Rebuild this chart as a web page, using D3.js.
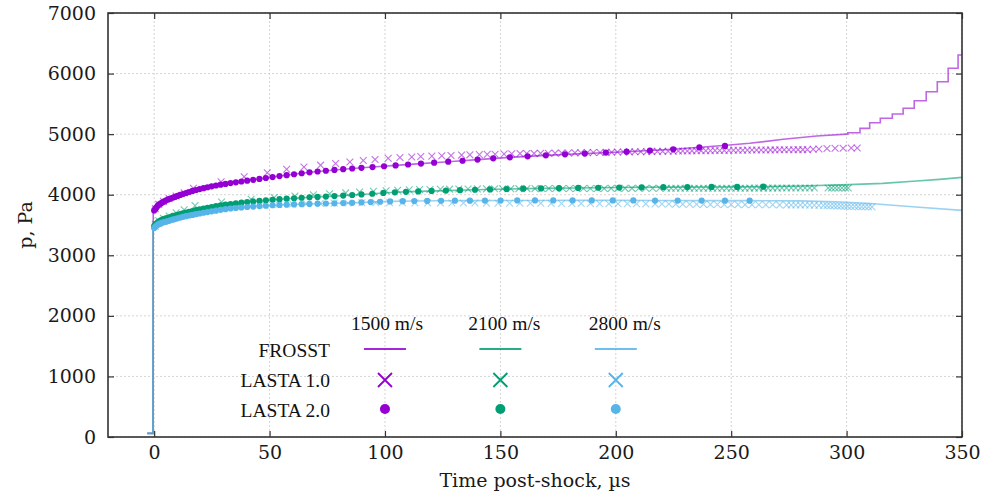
<!DOCTYPE html>
<html><head><meta charset="utf-8">
<script src="https://cdn.jsdelivr.net/npm/d3@7"></script>
<style>body{margin:0;background:#fff}</style>
</head><body><svg id="chart" width="989" height="497"></svg>
<script>
// ---------- DATA ----------
const xTicks = [0, 50, 100, 150, 200, 250, 300, 350];
const yTicks = [0, 1000, 2000, 3000, 4000, 5000, 6000, 7000];
const speeds = ["1500 m/s", "2100 m/s", "2800 m/s"];
const rowLabels = ["FROSST", "LASTA 1.0", "LASTA 2.0"];
const seriesColors = ["#9400d3", "#009e73", "#56b4e9"];

// FROSST (lines)
const frosst1500 = [[-3,60],[-0.5,60],[-0.4,3740],[0,3745],[1,3790],[2.2,3840],[3.6,3874],[5.2,3908],[7,3936],[9,3964],[11.3,3996],[13.8,4028],[16.6,4062],[19.7,4093],[23.1,4123],[26.8,4152],[30.9,4178],[35.4,4205],[40.3,4232],[45.6,4261],[51.3,4292],[57.4,4323],[63.9,4354],[70.8,4383],[78.1,4409],[85.8,4433],[94.6,4457],[104.6,4484],[115.6,4514],[127.4,4545],[140.1,4580],[154.1,4617],[169.7,4650],[186.6,4680],[204.7,4710],[224.9,4750],[236.5,4783],[248,4816],[258,4849],[272.6,4915],[287,4969],[300,5000]];
const frosst1500Steps = [[300,5000],[300.5,5024],[305.8,5096],[310,5189],[314.6,5262],[319.8,5333],[324.5,5427],[329.3,5552],[334.5,5701],[339.3,5866],[344,6087],[348.3,6307],[350,6307]];
const frosst2100 = [[-3,60],[-0.5,60],[-0.4,3480],[0,3485],[1,3525],[2.2,3562],[3.6,3590],[5.2,3610],[7,3632],[9,3656],[11.3,3680],[13.8,3705],[16.6,3731],[19.7,3758],[23.1,3784],[26.8,3810],[30.9,3835],[35.4,3857],[40.3,3879],[45.6,3898],[51.3,3916],[57.4,3934],[63.9,3950],[70.8,3964],[78.1,3977],[85.8,3995],[94.5,4016],[104.3,4040],[114.4,4055],[126.4,4068],[139,4082],[152.7,4094],[167.6,4104],[183.7,4112],[201.5,4118],[220.6,4125],[241.5,4128],[263.9,4133],[280,4145],[301,4166],[315.6,4188],[330.3,4227],[340.3,4254],[350,4287]];
const frosst2800 = [[-3,60],[-0.5,60],[-0.4,3450],[0,3455],[1,3488],[2.2,3518],[3.6,3540],[5.2,3555],[7,3577],[9,3598],[11.3,3622],[13.8,3646],[16.6,3667],[19.7,3690],[23.1,3714],[26.8,3736],[30.9,3762],[35.4,3781],[40.3,3797],[45.6,3812],[51.3,3826],[57.4,3836],[63.9,3844],[70.8,3852],[78.1,3858],[85.8,3866],[93.8,3878],[102.2,3890],[112.7,3896],[124.3,3900],[136.8,3902],[150.1,3904],[165,3905],[181.3,3906],[198.7,3906],[217,3904],[237.2,3903],[258,3902],[280,3898],[295,3885],[308.8,3858],[330,3798],[350,3742]];

// LASTA 1.0 (crosses)
const lasta1_1500 = [[0.5,3770],[2,3840],[4,3890],[6.5,3935],[9.5,3980],[13,4030],[17,4106],[29,4215],[39,4298],[49,4364],[57.4,4420],[64.9,4458],[72.1,4488],[78.6,4515],[84.8,4540],[90.6,4565],[95.7,4582],[101.4,4601],[106.5,4613],[111.6,4624],[115.5,4630],[120.3,4637],[124.6,4643],[128.6,4648],[133.2,4654],[136.8,4658],[140.9,4662],[144.3,4666],[147.7,4669],[151.6,4673],[154.9,4677],[158.5,4679],[161.4,4680],[164.6,4682],[167.4,4683],[170.8,4685],[173.7,4686],[176.6,4688],[179.4,4690],[182.3,4691],[184.9,4693],[187.7,4695],[190.3,4696],[193.2,4698],[195.8,4700],[198.2,4702],[200.7,4705],[203.3,4706],[205.9,4707],[208.3,4709],[210.8,4710],[213.4,4712],[215.6,4713],[218,4715],[220.3,4716],[222.7,4718],[224.9,4719],[227.1,4721],[229,4722],[231,4723],[233,4724],[235,4725],[237,4726],[239,4727],[241,4728],[243,4729],[245,4730],[247,4731],[249,4732],[251,4733],[253,4734],[255,4735],[257,4736],[259,4737],[261,4737],[263,4738],[265,4739],[267,4740],[269,4740],[271,4741],[273,4742],[275,4742],[277,4743],[279,4744],[281,4744],[283,4745],[285.5,4750],[288,4756],[291.5,4762],[295,4766],[298.5,4768],[302,4770],[304.6,4772]];
const lasta1_2100 = [[0.5,3510],[2,3570],[4,3610],[6.5,3650],[9.5,3700],[13,3750],[17.7,3820],[29.2,3880],[42,3925],[52,3955],[61,3980],[69,4000],[76,4016],[83,4030],[89,4043],[95,4055],[100.5,4066],[105.5,4074],[110.5,4080],[115,4084],[119.5,4087],[124,4090],[128,4092],[132,4094],[136,4095],[140,4096],[144,4097],[147.5,4098],[151,4099],[154.5,4100],[158,4100],[161.5,4101],[165,4101],[168,4102],[171,4102],[174,4102],[177,4103],[180,4103],[183,4103],[186,4104],[189,4104],[192,4104],[195,4104],[198,4105],[201,4105],[204,4105],[207,4105],[210,4106],[213,4106],[216,4106],[219,4106],[222,4106],[224,4106],[226,4106],[228,4107],[230,4107],[232,4107],[234,4107],[236,4107],[238,4107],[240,4107],[242,4107],[244,4108],[246,4108],[248,4108],[250,4108],[252,4108],[254,4108],[256,4108],[258,4109],[260,4109],[262,4109],[264,4109],[266,4109],[268,4109],[270,4109],[272,4110],[274,4110],[276,4110],[278,4110],[280,4110],[282,4110],[284,4110],[286,4110],[292,4110],[293.5,4110],[295,4111],[296.5,4111],[298,4111],[299.5,4111],[300.7,4111]];
const lasta1_2800 = [[0.5,3470],[2,3520],[4,3560],[6.5,3600],[9.5,3640],[13,3680],[18,3720],[24,3755],[30,3780],[36,3800],[42,3815],[48,3828],[54,3838],[60,3846],[66,3852],[72,3857],[78,3861],[84,3864],[90,3866],[96,3867],[102,3867],[107.5,3866],[113,3865],[118.5,3865],[124,3864],[129,3863],[134,3863],[139,3862],[144,3861],[149,3860],[154,3860],[158.5,3859],[163,3858],[167.5,3858],[172,3857],[176.5,3856],[181,3855],[185,3855],[189,3854],[193,3853],[197,3852],[201,3852],[205,3851],[209,3850],[213,3849],[217,3848],[220,3847],[223,3846],[226,3845],[229,3844],[232,3843],[235,3842],[238,3841],[241,3840],[244,3839],[247,3838],[250,3838],[253,3837],[256,3836],[259,3835],[262,3834],[265,3834],[268,3833],[271,3832],[274,3831],[276,3831],[278,3830],[280,3829],[282,3829],[284,3828],[286,3826],[288,3824],[290,3822],[291.5,3820],[293,3818],[294.5,3816],[296,3814],[297.5,3812],[299,3810],[300.5,3808],[302,3806],[303.5,3805],[305,3803],[306.5,3802],[308,3801],[309.5,3800],[311,3799]];

// LASTA 2.0 (dots)
const lasta2_1500 = [[0,3740],[0.5,3765],[1,3790],[1.6,3820],[2.2,3840],[2.9,3857],[3.6,3874],[4.4,3890],[5.2,3908],[6.1,3923],[7,3936],[8,3950],[9,3964],[10.1,3980],[11.3,3996],[12.5,4012],[13.8,4028],[15.2,4045],[16.6,4062],[18.1,4078],[19.7,4093],[21.4,4108],[23.1,4123],[24.9,4138],[26.8,4152],[28.8,4165],[30.9,4178],[33.1,4192],[35.4,4205],[37.8,4218],[40.3,4232],[42.9,4246],[45.6,4261],[48.4,4276],[51.3,4292],[54.3,4308],[57.4,4323],[60.6,4338],[63.9,4354],[67.3,4369],[70.8,4383],[74.4,4396],[78.1,4409],[81.9,4421],[85.8,4433],[89.8,4444],[94.6,4457],[99.6,4470],[104.6,4484],[110,4499],[115.6,4514],[121.3,4529],[127.4,4545],[133.6,4561],[140.1,4580],[146.9,4600],[154.1,4617],[161.8,4634],[169.7,4650],[178,4667],[186.6,4680],[195.7,4695],[204.7,4710],[214.8,4728],[224.9,4750],[236.2,4780],[247.3,4805]];
const lasta2_2100 = [[0,3480],[0.5,3505],[1,3525],[1.6,3545],[2.2,3562],[2.9,3578],[3.6,3590],[4.4,3600],[5.2,3610],[6.1,3620],[7,3632],[8,3645],[9,3656],[10.1,3668],[11.3,3680],[12.5,3692],[13.8,3705],[15.2,3718],[16.6,3731],[18.1,3744],[19.7,3758],[21.4,3771],[23.1,3784],[24.9,3797],[26.8,3810],[28.8,3823],[30.9,3835],[33.1,3846],[35.4,3857],[37.8,3868],[40.3,3879],[42.9,3889],[45.6,3898],[48.4,3907],[51.3,3916],[54.3,3926],[57.4,3934],[60.6,3942],[63.9,3950],[67.3,3958],[70.8,3964],[74.4,3970],[78.1,3977],[81.9,3986],[85.8,3995],[89.8,4004],[94.5,4016],[99.3,4030],[104.3,4040],[109.1,4048],[114.4,4055],[120.2,4062],[126.4,4068],[132.5,4075],[139,4082],[145.5,4088],[152.7,4094],[159.9,4099],[167.6,4104],[175.4,4108],[183.7,4112],[192.4,4115],[201.5,4118],[211.2,4122],[220.6,4125],[231,4127],[241.5,4128],[252.6,4129],[263.9,4133]];
const lasta2_2800 = [[0,3450],[0.5,3470],[1,3488],[1.6,3505],[2.2,3518],[2.9,3530],[3.6,3540],[4.4,3548],[5.2,3555],[6.1,3566],[7,3577],[8,3588],[9,3598],[10.1,3610],[11.3,3622],[12.5,3635],[13.8,3646],[15.2,3657],[16.6,3667],[18.1,3678],[19.7,3690],[21.4,3702],[23.1,3714],[24.9,3725],[26.8,3736],[28.8,3750],[30.9,3762],[33.1,3772],[35.4,3781],[37.8,3789],[40.3,3797],[42.9,3805],[45.6,3812],[48.4,3818],[51.3,3826],[54.3,3832],[57.4,3836],[60.6,3840],[63.9,3844],[67.3,3848],[70.8,3852],[74.4,3855],[78.1,3858],[81.9,3862],[85.8,3866],[89.8,3872],[93.8,3878],[97.9,3884],[102.2,3890],[107.7,3893],[112.7,3896],[118.3,3898],[124.3,3900],[130.3,3901],[136.8,3902],[143.3,3903],[150.1,3904],[157.3,3905],[165,3905],[172.9,3906],[181.3,3906],[189.6,3906],[198.7,3906],[207.6,3905],[217,3904],[226.8,3903],[237.2,3903],[247.3,3902],[258,3902]];

// legend column positions (in time units, as in the original)
const legendCols = [100, 150, 200];

// ---------- DRAW ----------
const svg = d3.select('#chart');
const L = 108, R = 962, T = 13, B = 437;
const x = d3.scaleLinear().domain([-20, 350]).range([L, R]);
const y = d3.scaleLinear().domain([0, 7000]).range([B, T]);
const tickFont = "'DejaVu Serif', serif";
const legFont = "'Liberation Serif', 'Times New Roman', serif";

svg.append('rect').attr('width', 989).attr('height', 497).attr('fill', '#fff');

// grid
const grid = svg.append('g').attr('stroke', '#d4d4d4').attr('stroke-width', 1).attr('stroke-dasharray', '2,2');
grid.selectAll('.gx').data(xTicks).join('line')
  .attr('x1', d => x(d)).attr('x2', d => x(d)).attr('y1', T).attr('y2', B);
grid.selectAll('.gy').data(yTicks).join('line')
  .attr('x1', L).attr('x2', R).attr('y1', d => y(d)).attr('y2', d => y(d));

// clip
svg.append('clipPath').attr('id', 'clip').append('rect')
  .attr('x', L).attr('y', T).attr('width', R - L).attr('height', B - T);
const plot = svg.append('g').attr('clip-path', 'url(#clip)');

const line = d3.line().x(d => x(d[0])).y(d => y(d[1]));
const stepLine = d3.line().x(d => x(d[0])).y(d => y(d[1])).curve(d3.curveStepAfter);

const frosst = [frosst1500, frosst2100, frosst2800];
const lasta1 = [lasta1_1500, lasta1_2100, lasta1_2800];
const lasta2 = [lasta2_1500, lasta2_2100, lasta2_2800];

frosst.forEach((s, i) => {
  plot.append('path').datum(s).attr('d', line)
    .attr('fill', 'none').attr('stroke', seriesColors[i]).attr('stroke-opacity', 0.6).attr('stroke-width', 1.6);
});
plot.append('path').datum(frosst1500Steps).attr('d', stepLine)
  .attr('fill', 'none').attr('stroke', seriesColors[0]).attr('stroke-opacity', 0.6).attr('stroke-width', 1.6);

const xs = 3.4;
lasta1.forEach((s, i) => {
  plot.append('g').selectAll('path').data(s).join('path')
    .attr('d', d => { const cx = x(d[0]), cy = y(d[1]);
      return `M${cx-xs},${cy-xs}L${cx+xs},${cy+xs}M${cx-xs},${cy+xs}L${cx+xs},${cy-xs}`; })
    .attr('stroke', seriesColors[i]).attr('stroke-opacity', 0.55).attr('stroke-width', 1.1).attr('fill', 'none');
});
lasta2.forEach((s, i) => {
  plot.append('g').selectAll('circle').data(s).join('circle')
    .attr('cx', d => x(d[0])).attr('cy', d => y(d[1])).attr('r', 3.1)
    .attr('fill', seriesColors[i]);
});

// axes (inward ticks on all sides)
const axisColor = '#333';
function styleAxis(g, showLabels) {
  g.select('.domain').remove();
  g.selectAll('.tick line').attr('stroke', axisColor).attr('stroke-width', 1.2);
  g.selectAll('.tick text').attr('fill', '#1a1a1a').style('font-family', tickFont).style('font-size', '19px');
  if (!showLabels) g.selectAll('.tick text').remove();
}
svg.append('g').attr('transform', `translate(0,${B})`)
  .call(d3.axisBottom(x).tickValues(xTicks).tickSize(-6).tickPadding(9).tickFormat(d3.format('d')))
  .call(g => styleAxis(g, true));
svg.append('g').attr('transform', `translate(0,${T})`)
  .call(d3.axisTop(x).tickValues(xTicks).tickSize(-6))
  .call(g => styleAxis(g, false));
svg.append('g').attr('transform', `translate(${L},0)`)
  .call(d3.axisLeft(y).tickValues(yTicks).tickSize(-6).tickPadding(12).tickFormat(d3.format('d')))
  .call(g => styleAxis(g, true));
svg.append('g').attr('transform', `translate(${R},0)`)
  .call(d3.axisRight(y).tickValues(yTicks).tickSize(-6))
  .call(g => styleAxis(g, false));

svg.append('rect').attr('x', L).attr('y', T).attr('width', R - L).attr('height', B - T)
  .attr('fill', 'none').attr('stroke', axisColor).attr('stroke-width', 1.6);

// axis titles
svg.append('text').attr('x', (L + R) / 2).attr('y', 487).attr('text-anchor', 'middle')
  .style('font-family', tickFont).style('font-size', '19px').attr('fill', '#1a1a1a')
  .text('Time post-shock, µs');
svg.append('text').attr('transform', `translate(32,${(T + B) / 2}) rotate(-90)`).attr('text-anchor', 'middle')
  .style('font-family', tickFont).style('font-size', '19px').attr('fill', '#1a1a1a')
  .text('p, Pa');

// legend
const leg = svg.append('g');
const headerOffsets = [2, 4, 9];
const rowY = [349, 380, 409];
const rowBase = [356.5, 387, 417];
legendCols.forEach((c, i) => {
  const cx = x(c);
  leg.append('text').attr('x', cx + headerOffsets[i]).attr('y', 330).attr('text-anchor', 'middle')
    .style('font-family', legFont).style('font-size', '19.5px').attr('fill', '#111').text(speeds[i]);
  leg.append('line').attr('x1', cx - 21).attr('x2', cx + 21).attr('y1', rowY[0]).attr('y2', rowY[0])
    .attr('stroke', seriesColors[i]).attr('stroke-opacity', 0.85).attr('stroke-width', 2);
  const s = 7;
  leg.append('path').attr('d', `M${cx-s},${rowY[1]-s}L${cx+s},${rowY[1]+s}M${cx-s},${rowY[1]+s}L${cx+s},${rowY[1]-s}`)
    .attr('stroke', seriesColors[i]).attr('stroke-width', 1.8).attr('fill', 'none');
  leg.append('circle').attr('cx', cx).attr('cy', rowY[2]).attr('r', 5).attr('fill', seriesColors[i]);
});
rowLabels.forEach((t, i) => {
  leg.append('text').attr('x', 330).attr('y', rowBase[i]).attr('text-anchor', 'end')
    .style('font-family', legFont).style('font-size', '19.5px').attr('fill', '#111').text(t);
});
</script>
</body></html>
